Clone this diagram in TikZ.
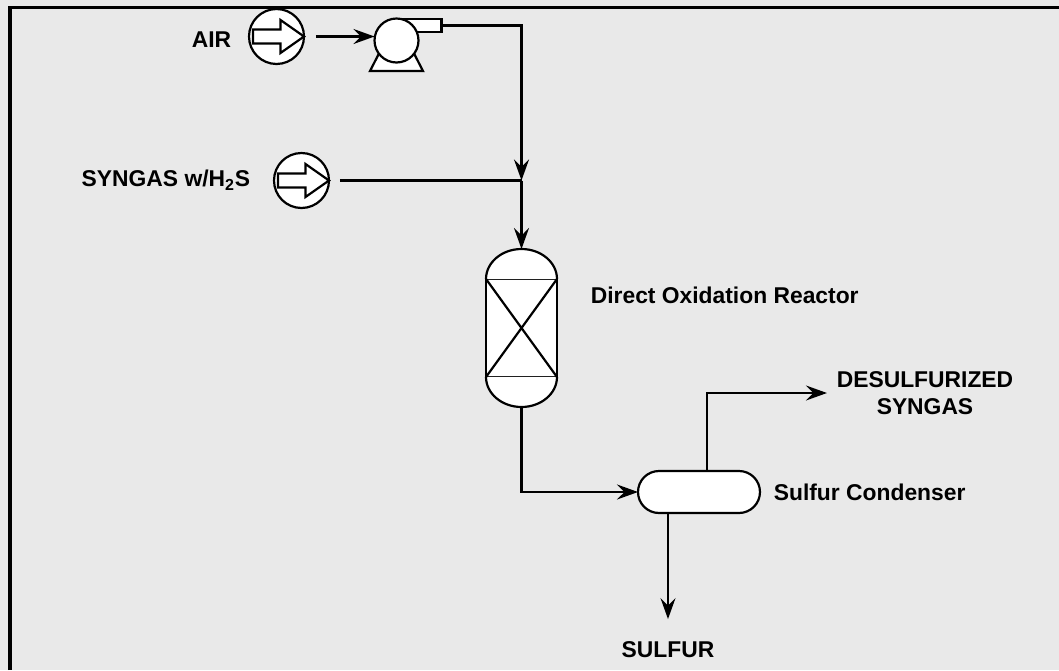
\documentclass[tikz,border=0pt]{standalone}
\usepackage{fontspec}
\setmainfont{Liberation Sans}
\usetikzlibrary{arrows.meta,positioning,shapes.misc}
\tikzset{>={Stealth[length=0.42cm,width=0.3cm,inset=0.15cm]}}
\definecolor{panelgray}{HTML}{E9E9E9}
\tikzset{
  unit/.style={draw, fill=white, inner sep=0pt, outer sep=0pt},
  feed/.style={unit, circle, minimum size=1.1cm},
  lbl/.style={font=\fontsize{13}{15}\selectfont\bfseries, inner sep=1pt, align=center},
}
\begin{document}
\begin{tikzpicture}[x=0.02cm, y=-0.02cm, line width=1.25pt]

  \newcommand\FeedArrow[1]{%
    \draw[fill=white, shift={(#1.center)}]
    (-23.5,-7) -- (4,-7) -- (4,-16.5) -- (27.5,0) -- (4,16.5) -- (4,7) -- (-23.5,7) -- cycle;}

  \useasboundingbox (0,0) rectangle (1059,670);
  \fill[panelgray] (0,0) rectangle (1059,670);
  \draw[line width=1.8pt] (10,670) |- (1059,7.5); %% frame

  %% feeds
  \node[feed] (airin) at (276.5,36.5) {};
  \FeedArrow{airin}
  \node[feed] (synin) at (301.5,180.5) {};
  \FeedArrow{synin}
  \node[lbl, left=0.3cm of airin, yshift=-0.07cm] (airlbl) {AIR};
  \node[lbl, left=0.42cm of synin] (synlbl) {SYNGAS w/H\textsubscript{2}S};

  %% blower: stand and nozzle behind the casing
  \coordinate (pumpc) at (396.5,40.5);
  \draw[fill=white, shift={(pumpc)}]
  (-26.5,30.5) -- (26.5,30.5) -- (17,12) -- (-17,12) -- cycle;
  \node[unit, minimum width=0.9cm, minimum height=0.26cm, anchor=north west]
  (nozzle) at ([yshift=0.43cm]pumpc) {};
  \node[unit, circle, minimum size=0.88cm] (blower) at (pumpc) {};

  %% reactor
  \node[unit, minimum width=1.42cm, minimum height=1.96cm] (reactor) at (521.5,328) {};
  \draw[fill=white] (reactor.north west)
  arc[start angle=180, end angle=0, x radius=0.71cm, y radius=0.6cm];
  \draw[fill=white] (reactor.south west)
  arc[start angle=180, end angle=360, x radius=0.71cm, y radius=0.6cm];
  \draw (reactor.north west) -- (reactor.south east)
  (reactor.north east) -- (reactor.south west);
  \node[lbl, anchor=west] (rxlbl) at ([xshift=0.62cm, yshift=0.65cm]reactor.east)
  {Direct Oxidation Reactor};

  %% condenser
  \node[unit, rounded rectangle, minimum width=2.44cm, minimum height=0.84cm]
  (cond) at (699,492) {};
  \node[lbl, right=0.22cm of cond] (condlbl) {Sulfur Condenser};

  %% products
  \node[lbl] (gasout) at (925,393) {DESULFURIZED\\SYNGAS};
  \node[lbl] (sulfur) at (668,650) {SULFUR};

  %% piping
  \coordinate (mix) at (reactor.north |- synin.east);
  \draw[->] ([xshift=0.24cm]airin.east) -- (airin.east -| blower.west); %% air -> blower
  \draw[->] (nozzle.east) -| (mix); %% blower -> mix
  \draw ([xshift=0.22cm]synin.east) -- (mix); %% syngas -> mix
  \draw[->] (mix) -- ([yshift=0.6cm]reactor.north);
  \draw[->] ([yshift=-0.6cm]reactor.south) |- (cond.west); %% reactor -> condenser
  \draw[->] ([xshift=0.16cm]cond.north) |- ([xshift=-0.14cm]gasout.west);
  \draw[->] (cond.south -| sulfur.north) -- ([yshift=0.4cm]sulfur.north);

\end{tikzpicture}
\end{document}
